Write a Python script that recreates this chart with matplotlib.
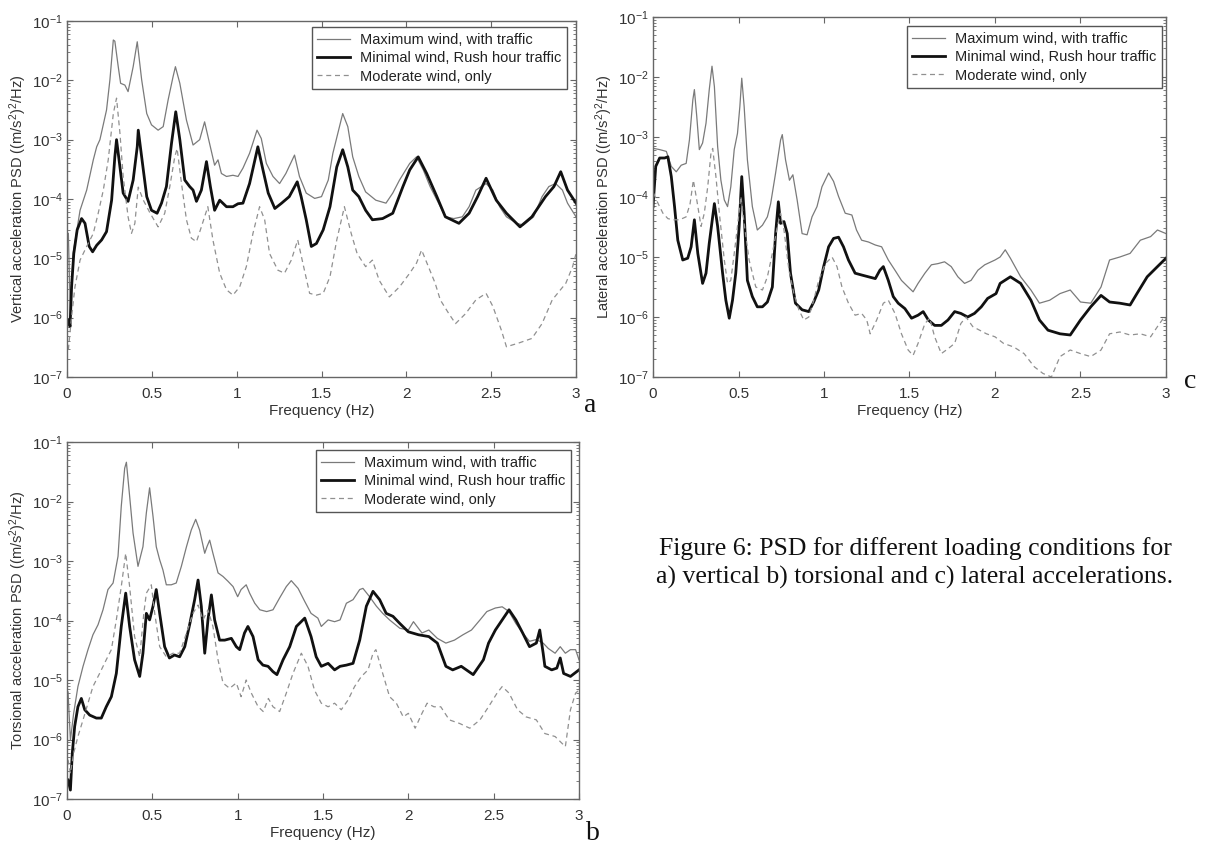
import matplotlib
matplotlib.use("Agg")
import matplotlib.pyplot as plt
import numpy as np
from matplotlib.ticker import FixedLocator, LogLocator, FuncFormatter, NullFormatter

plt.rcParams['font.family'] = ['Liberation Sans', 'DejaVu Sans']
plt.rcParams['mathtext.fontset'] = 'custom'
plt.rcParams['mathtext.rm'] = 'Liberation Sans'
plt.rcParams['mathtext.it'] = 'Liberation Sans:italic'
plt.rcParams['mathtext.bf'] = 'Liberation Sans:bold'
plt.rcParams['mathtext.default'] = 'regular'

# ---------------- data (log10 of PSD) ----------------
labels = ["Maximum wind, with traffic", "Minimal wind, Rush hour traffic", "Moderate wind, only"]
x_ticks = [0, 0.5, 1, 1.5, 2, 2.5, 3]
x_tick_labels = ["0", "0.5", "1", "1.5", "2", "2.5", "3"]
y_decades = [-7, -6, -5, -4, -3, -2, -1]

# Panel a: vertical
vert_f_max = [0.008,0.02,0.037,0.077,0.116,0.155,0.175,0.194,0.233,0.253,0.273,0.282,0.302,0.316,0.341,0.36,0.39,0.414,0.44,0.47,0.498,0.537,0.567,0.596,0.625,0.639,0.665,0.704,0.743,0.782,0.811,0.84,0.87,0.89,0.91,0.94,0.978,1.008,1.037,1.076,1.12,1.145,1.175,1.214,1.253,1.29,1.341,1.37,1.41,1.46,1.5,1.54,1.567,1.606,1.625,1.655,1.684,1.72,1.76,1.82,1.88,1.92,1.96,2.02,2.06,2.1,2.14,2.19,2.23,2.28,2.33,2.37,2.41,2.47,2.51,2.55,2.59,2.65,2.69,2.75,2.8,2.84,2.88,2.92,2.95,3.0]
vert_lg_max = [-4.58,-5.98,-4.9,-4.19,-3.85,-3.34,-3.12,-3.0,-2.5,-1.99,-1.32,-1.34,-1.77,-2.05,-2.08,-2.19,-1.77,-1.35,-1.99,-2.56,-2.75,-2.84,-2.78,-2.33,-1.94,-1.77,-2.05,-2.67,-3.09,-3.0,-2.70,-3.06,-3.43,-3.34,-3.57,-3.62,-3.60,-3.62,-3.48,-3.23,-2.84,-2.98,-3.40,-3.62,-3.74,-3.57,-3.26,-3.62,-3.90,-3.99,-3.96,-3.68,-3.23,-2.78,-2.56,-2.78,-3.29,-3.62,-3.88,-4.02,-4.07,-3.90,-3.68,-3.40,-3.29,-3.51,-3.79,-4.07,-4.30,-4.33,-4.30,-4.13,-3.85,-3.74,-3.85,-4.13,-4.30,-4.41,-4.44,-4.30,-3.96,-3.79,-3.74,-3.85,-4.07,-4.30]
vert_f_min = [0.008,0.018,0.027,0.04,0.06,0.086,0.106,0.131,0.151,0.175,0.204,0.233,0.263,0.282,0.292,0.312,0.331,0.36,0.39,0.414,0.42,0.44,0.47,0.498,0.531,0.557,0.586,0.616,0.641,0.665,0.694,0.723,0.743,0.763,0.792,0.822,0.845,0.87,0.9,0.94,0.978,1.008,1.037,1.076,1.125,1.155,1.186,1.225,1.265,1.31,1.357,1.38,1.41,1.44,1.47,1.51,1.55,1.59,1.625,1.655,1.684,1.72,1.76,1.8,1.86,1.92,1.98,2.02,2.07,2.12,2.18,2.23,2.31,2.37,2.42,2.47,2.53,2.59,2.67,2.74,2.82,2.87,2.91,2.95,3.0]
vert_lg_min = [-6.04,-6.15,-5.48,-4.92,-4.52,-4.33,-4.41,-4.80,-4.89,-4.78,-4.69,-4.55,-4.02,-3.29,-3.0,-3.46,-3.90,-4.04,-3.68,-3.12,-2.84,-3.29,-3.96,-4.19,-4.24,-4.07,-3.79,-3.06,-2.53,-3.0,-3.68,-3.79,-3.85,-4.04,-3.85,-3.37,-3.79,-4.19,-4.02,-4.13,-4.13,-4.08,-4.07,-3.74,-3.12,-3.51,-3.90,-4.16,-4.07,-3.96,-3.71,-3.96,-4.35,-4.80,-4.75,-4.52,-4.13,-3.46,-3.17,-3.46,-3.85,-3.96,-4.19,-4.35,-4.33,-4.24,-3.79,-3.51,-3.29,-3.57,-3.96,-4.30,-4.41,-4.24,-3.96,-3.65,-4.02,-4.24,-4.47,-4.30,-3.96,-3.79,-3.54,-3.85,-4.07]
vert_f_mod = [0.008,0.027,0.047,0.077,0.116,0.155,0.184,0.214,0.243,0.273,0.292,0.312,0.331,0.36,0.38,0.4,0.42,0.45,0.49,0.537,0.576,0.606,0.635,0.649,0.675,0.704,0.733,0.763,0.792,0.83,0.86,0.9,0.94,0.978,1.018,1.057,1.096,1.135,1.165,1.194,1.243,1.282,1.322,1.36,1.39,1.43,1.47,1.51,1.55,1.59,1.635,1.675,1.71,1.76,1.8,1.84,1.9,1.96,2.02,2.06,2.09,2.13,2.17,2.2,2.25,2.29,2.35,2.41,2.47,2.51,2.56,2.59,2.66,2.74,2.8,2.86,2.94,2.98,3.0]
vert_lg_mod = [-6.54,-5.98,-5.48,-5.03,-4.80,-4.58,-4.24,-3.85,-3.34,-2.56,-2.3,-2.89,-3.62,-4.30,-4.58,-4.41,-3.8,-4.02,-4.24,-4.47,-4.24,-3.79,-3.29,-3.15,-3.74,-4.35,-4.66,-4.72,-4.47,-4.13,-4.69,-5.25,-5.53,-5.62,-5.48,-5.14,-4.58,-4.13,-4.35,-4.92,-5.20,-5.25,-5.03,-4.69,-5.08,-5.59,-5.62,-5.59,-5.31,-4.69,-4.13,-4.58,-4.92,-5.14,-5.03,-5.37,-5.65,-5.48,-5.25,-5.08,-4.86,-5.14,-5.42,-5.70,-5.93,-6.10,-5.93,-5.70,-5.59,-5.81,-6.21,-6.49,-6.43,-6.35,-6.10,-5.70,-5.42,-5.14,-4.92]

# Panel c: lateral
lat_f_max = [0.004,0.039,0.078,0.107,0.136,0.165,0.194,0.213,0.233,0.242,0.256,0.271,0.29,0.31,0.329,0.345,0.359,0.378,0.397,0.417,0.436,0.455,0.475,0.494,0.508,0.519,0.533,0.552,0.581,0.61,0.64,0.669,0.688,0.717,0.746,0.756,0.775,0.798,0.818,0.843,0.872,0.901,0.93,0.959,0.988,1.027,1.056,1.085,1.124,1.163,1.19,1.22,1.26,1.3,1.337,1.376,1.415,1.453,1.492,1.521,1.55,1.59,1.628,1.667,1.705,1.744,1.783,1.822,1.86,1.9,1.94,2.0,2.03,2.06,2.09,2.15,2.21,2.26,2.32,2.38,2.44,2.5,2.56,2.62,2.67,2.73,2.79,2.85,2.91,2.95,3.0]
lat_lg_max = [-3.19,-3.21,-3.24,-3.49,-3.58,-3.47,-3.44,-3.05,-2.38,-2.21,-2.66,-3.21,-3.10,-2.77,-2.21,-1.82,-2.16,-3.16,-3.72,-4.05,-4.16,-3.83,-3.21,-2.94,-2.49,-2.02,-2.49,-3.38,-4.16,-4.55,-4.47,-4.33,-4.11,-3.60,-3.05,-2.96,-3.38,-3.72,-3.63,-4.05,-4.61,-4.63,-4.33,-4.16,-3.83,-3.60,-3.74,-3.99,-4.27,-4.30,-4.55,-4.72,-4.75,-4.80,-4.83,-5.05,-5.22,-5.39,-5.50,-5.58,-5.44,-5.27,-5.13,-5.11,-5.08,-5.16,-5.33,-5.44,-5.39,-5.22,-5.13,-5.05,-5.0,-4.88,-5.02,-5.33,-5.55,-5.77,-5.72,-5.61,-5.55,-5.75,-5.77,-5.50,-5.05,-5.0,-4.94,-4.72,-4.66,-4.55,-4.61]
lat_f_min = [0.0,0.016,0.039,0.068,0.087,0.107,0.126,0.145,0.174,0.203,0.223,0.242,0.262,0.29,0.31,0.329,0.359,0.378,0.407,0.426,0.446,0.465,0.484,0.504,0.519,0.533,0.552,0.581,0.61,0.64,0.669,0.698,0.717,0.733,0.746,0.766,0.785,0.804,0.833,0.872,0.911,0.94,0.969,0.998,1.027,1.056,1.085,1.114,1.143,1.182,1.22,1.26,1.3,1.327,1.347,1.376,1.405,1.434,1.473,1.512,1.55,1.58,1.61,1.647,1.686,1.725,1.764,1.8,1.84,1.88,1.92,1.957,2.006,2.03,2.09,2.15,2.21,2.26,2.31,2.38,2.44,2.5,2.56,2.62,2.67,2.73,2.79,2.83,2.89,2.95,3.0]
lat_lg_min = [-4.16,-3.49,-3.35,-3.35,-3.33,-3.66,-4.16,-4.72,-5.05,-5.02,-4.83,-4.38,-4.94,-5.44,-5.27,-4.77,-4.11,-4.49,-5.27,-5.72,-6.02,-5.72,-5.27,-4.49,-3.66,-4.27,-5.39,-5.66,-5.83,-5.83,-5.75,-5.50,-4.61,-4.08,-4.44,-4.41,-4.61,-5.27,-5.77,-5.88,-5.91,-5.75,-5.55,-5.16,-4.83,-4.69,-4.67,-4.83,-5.05,-5.27,-5.30,-5.33,-5.36,-5.22,-5.16,-5.39,-5.66,-5.77,-5.86,-6.02,-5.97,-5.91,-6.05,-6.14,-6.14,-6.05,-5.91,-5.94,-6.0,-5.94,-5.83,-5.69,-5.61,-5.44,-5.33,-5.44,-5.72,-6.05,-6.22,-6.28,-6.30,-6.05,-5.83,-5.64,-5.75,-5.77,-5.80,-5.61,-5.33,-5.16,-5.02]
lat_f_mod = [0.004,0.03,0.058,0.087,0.116,0.155,0.194,0.217,0.236,0.256,0.281,0.3,0.32,0.339,0.349,0.368,0.388,0.417,0.436,0.455,0.475,0.494,0.514,0.533,0.562,0.601,0.64,0.669,0.698,0.727,0.746,0.766,0.795,0.824,0.853,0.882,0.911,0.94,0.969,1.008,1.047,1.076,1.105,1.143,1.182,1.22,1.25,1.27,1.308,1.347,1.376,1.415,1.453,1.492,1.521,1.55,1.59,1.618,1.647,1.686,1.725,1.764,1.8,1.83,1.87,1.91,1.95,2.0,2.05,2.11,2.17,2.23,2.28,2.33,2.38,2.44,2.5,2.56,2.62,2.67,2.73,2.79,2.85,2.91,2.95,2.99,3.0]
lat_lg_mod = [-3.94,-4.11,-4.27,-4.36,-4.38,-4.38,-4.33,-4.11,-3.72,-4.05,-4.49,-4.27,-3.83,-3.27,-3.19,-3.66,-4.27,-5.05,-5.44,-5.39,-4.94,-4.49,-3.99,-4.44,-5.05,-5.50,-5.55,-5.33,-4.94,-4.49,-4.27,-4.55,-5.22,-5.61,-5.88,-6.05,-6.0,-5.72,-5.39,-5.11,-5.0,-5.16,-5.50,-5.77,-5.97,-5.94,-6.05,-6.28,-6.05,-5.77,-5.72,-5.94,-6.28,-6.55,-6.64,-6.44,-6.11,-6.02,-6.33,-6.61,-6.53,-6.44,-6.11,-6.0,-6.16,-6.22,-6.28,-6.33,-6.44,-6.50,-6.61,-6.83,-6.94,-7.0,-6.66,-6.55,-6.61,-6.66,-6.55,-6.28,-6.25,-6.30,-6.28,-6.33,-6.16,-6.0,-6.05]

# Panel b: torsional
tor_f_max = [0.006,0.02,0.039,0.064,0.094,0.123,0.152,0.182,0.211,0.24,0.27,0.299,0.318,0.338,0.348,0.367,0.387,0.416,0.445,0.465,0.484,0.504,0.523,0.543,0.562,0.582,0.611,0.64,0.67,0.7,0.728,0.754,0.777,0.807,0.82,0.836,0.855,0.885,0.914,0.943,0.973,1.0,1.02,1.05,1.07,1.1,1.13,1.17,1.207,1.246,1.285,1.314,1.354,1.393,1.43,1.47,1.49,1.53,1.568,1.6,1.637,1.676,1.715,1.734,1.773,1.813,1.85,1.89,1.95,2.0,2.03,2.08,2.12,2.17,2.22,2.27,2.32,2.37,2.42,2.46,2.51,2.55,2.59,2.63,2.67,2.71,2.75,2.79,2.82,2.86,2.89,2.92,2.95,2.98,3.0]
tor_lg_max = [-5.2,-6.01,-5.56,-5.11,-4.77,-4.49,-4.24,-4.07,-3.82,-3.48,-3.37,-2.92,-2.08,-1.44,-1.34,-1.91,-2.53,-3.09,-2.76,-2.19,-1.77,-2.25,-2.76,-2.98,-3.15,-3.40,-3.40,-3.37,-3.09,-2.76,-2.48,-2.30,-2.48,-2.87,-2.76,-2.65,-2.87,-3.20,-3.26,-3.34,-3.43,-3.60,-3.48,-3.40,-3.54,-3.71,-3.82,-3.85,-3.82,-3.62,-3.43,-3.33,-3.46,-3.68,-3.88,-3.96,-4.10,-3.99,-4.02,-3.99,-3.71,-3.65,-3.48,-3.46,-3.60,-3.76,-3.88,-3.99,-4.13,-4.16,-4.02,-4.21,-4.16,-4.30,-4.38,-4.33,-4.24,-4.16,-3.99,-3.85,-3.79,-3.77,-3.85,-4.05,-4.21,-4.35,-4.32,-4.38,-4.47,-4.55,-4.44,-4.55,-4.49,-4.49,-4.66]
tor_f_min = [0.006,0.02,0.031,0.045,0.064,0.084,0.104,0.133,0.172,0.201,0.23,0.26,0.289,0.318,0.344,0.367,0.396,0.426,0.445,0.465,0.484,0.504,0.523,0.543,0.572,0.6,0.63,0.66,0.69,0.72,0.748,0.768,0.787,0.807,0.826,0.846,0.865,0.894,0.924,0.963,0.992,1.012,1.04,1.06,1.09,1.12,1.148,1.178,1.207,1.23,1.266,1.305,1.344,1.393,1.43,1.46,1.49,1.53,1.568,1.6,1.637,1.676,1.715,1.754,1.793,1.832,1.87,1.91,1.95,2.0,2.06,2.12,2.17,2.22,2.26,2.31,2.38,2.44,2.47,2.51,2.55,2.59,2.63,2.67,2.71,2.75,2.77,2.79,2.8,2.84,2.87,2.89,2.91,2.95,3.0]
tor_lg_min = [-6.68,-6.85,-6.23,-5.78,-5.45,-5.31,-5.50,-5.59,-5.64,-5.64,-5.45,-5.28,-4.89,-4.10,-3.54,-4.10,-4.66,-4.94,-4.55,-3.88,-3.99,-3.76,-3.48,-3.88,-4.44,-4.63,-4.58,-4.61,-4.44,-4.05,-3.65,-3.32,-3.76,-4.55,-3.99,-3.57,-3.99,-4.33,-4.33,-4.30,-4.44,-4.49,-4.21,-4.10,-4.27,-4.66,-4.75,-4.77,-4.86,-4.91,-4.66,-4.44,-4.10,-3.96,-4.27,-4.61,-4.77,-4.72,-4.83,-4.77,-4.75,-4.72,-4.33,-3.76,-3.51,-3.65,-3.88,-3.93,-4.05,-4.19,-4.24,-4.27,-4.38,-4.77,-4.83,-4.77,-4.91,-4.66,-4.38,-4.16,-3.99,-3.82,-3.99,-4.21,-4.44,-4.38,-4.16,-4.55,-4.77,-4.83,-4.80,-4.63,-4.89,-4.94,-4.83]
tor_f_mod = [0.006,0.02,0.039,0.064,0.094,0.123,0.152,0.191,0.23,0.26,0.289,0.318,0.344,0.367,0.396,0.426,0.45,0.465,0.494,0.514,0.543,0.582,0.621,0.66,0.7,0.738,0.768,0.797,0.826,0.855,0.885,0.914,0.953,0.992,1.02,1.05,1.08,1.12,1.15,1.18,1.207,1.246,1.285,1.324,1.373,1.412,1.45,1.49,1.53,1.568,1.607,1.646,1.685,1.725,1.764,1.793,1.81,1.85,1.89,1.93,1.97,2.0,2.04,2.08,2.11,2.15,2.19,2.24,2.3,2.36,2.42,2.47,2.52,2.55,2.59,2.64,2.69,2.75,2.8,2.86,2.92,2.95,2.98,3.0]
tor_lg_mod = [-6.34,-6.57,-6.23,-5.95,-5.67,-5.39,-5.11,-4.89,-4.66,-4.49,-3.99,-3.43,-2.87,-3.43,-4.27,-4.61,-3.88,-3.54,-3.40,-3.88,-4.44,-4.61,-4.55,-4.55,-4.21,-3.88,-3.74,-3.99,-3.82,-4.10,-4.66,-5.05,-5.14,-5.05,-5.28,-5.0,-5.22,-5.45,-5.53,-5.31,-5.45,-5.53,-5.22,-4.89,-4.55,-4.77,-5.17,-5.39,-5.45,-5.39,-5.50,-5.34,-5.11,-4.94,-4.83,-4.55,-4.49,-4.89,-5.28,-5.39,-5.62,-5.56,-5.81,-5.56,-5.39,-5.45,-5.45,-5.67,-5.73,-5.81,-5.67,-5.45,-5.22,-5.11,-5.22,-5.50,-5.62,-5.67,-5.90,-5.95,-6.12,-5.50,-5.22,-5.17]

panels = [
    dict(name="a", ylabel="Vertical acceleration PSD ((m/s$^2$)$^2$/Hz)",
         series=[(vert_f_max, vert_lg_max), (vert_f_min, vert_lg_min), (vert_f_mod, vert_lg_mod)],
         rect=[67, 21, 576, 377], legend=(307, 27, 567), tag=(590, 405)),
    dict(name="c", ylabel="Lateral acceleration PSD ((m/s$^2$)$^2$/Hz)",
         series=[(lat_f_max, lat_lg_max), (lat_f_min, lat_lg_min), (lat_f_mod, lat_lg_mod)],
         rect=[653, 17, 1166, 377], legend=(896, 26, 1162), tag=(1190, 381)),
    dict(name="b", ylabel="Torsional acceleration PSD ((m/s$^2$)$^2$/Hz)",
         series=[(tor_f_max, tor_lg_max), (tor_f_min, tor_lg_min), (tor_f_mod, tor_lg_mod)],
         rect=[67, 442, 579, 799], legend=(309, 450, 571), tag=(593, 833)),
]

W, H = 1208, 850
fig = plt.figure(figsize=(W / 100, H / 100), dpi=100)
fig.patch.set_facecolor("white")

styles = [dict(color="#7a7a7a", lw=0.9, ls="-"),
          dict(color="#111111", lw=2.0, ls="-"),
          dict(color="#909090", lw=0.9, ls=(0, (4, 3)))]
txt_color = "#333333"
spine_color = "#666666"

def fmt_dec(v, pos):
    e = int(round(np.log10(v)))
    return r"$10^{%d}$" % e

for p in panels:
    x0, y0, x1, y1 = p["rect"]
    ax = fig.add_axes([x0 / W, 1 - y1 / H, (x1 - x0) / W, (y1 - y0) / H])
    for (f, lg), st in zip(p["series"], styles):
        assert len(f) == len(lg), (p["name"], len(f), len(lg))
        ax.plot(f, np.power(10.0, lg), **st)
    ax.set_yscale("log")
    ax.set_xlim(0, 3)
    ax.set_ylim(10.0 ** y_decades[0], 10.0 ** y_decades[-1])
    ax.xaxis.set_major_locator(FixedLocator(x_ticks))
    ax.set_xticklabels(x_tick_labels)
    ax.yaxis.set_major_locator(FixedLocator([10.0 ** d for d in y_decades]))
    ax.yaxis.set_major_formatter(FuncFormatter(fmt_dec))
    ax.yaxis.set_minor_locator(LogLocator(base=10, subs=np.arange(2, 10), numticks=20))
    ax.yaxis.set_minor_formatter(NullFormatter())
    ax.tick_params(which="both", direction="in", top=True, right=True,
                   colors=spine_color, labelcolor=txt_color, labelsize=11)
    ax.tick_params(which="major", length=4, width=0.8, pad=3)
    ax.tick_params(axis="x", which="major", pad=7)
    ax.tick_params(which="minor", length=2.5, width=0.6)
    for s in ax.spines.values():
        s.set_color(spine_color)
        s.set_linewidth(1.0)
    ax.set_xlabel("Frequency (Hz)", fontsize=11, color=txt_color, labelpad=2)
    ax.set_ylabel(p["ylabel"], fontsize=10.5, color=txt_color)
    ax.yaxis.set_label_coords(-38.0 / (x1 - x0), 0.5)
    lx0, ly0, lx1 = p["legend"]
    leg = ax.legend(labels, loc="upper right",
                    bbox_to_anchor=((lx1 - x0) / (x1 - x0), 1 - (ly0 - y0) / (y1 - y0)),
                    borderaxespad=0, fancybox=False, framealpha=1,
                    edgecolor="#555555", fontsize=10.5, handlelength=2.2,
                    handletextpad=0.7, labelspacing=0.3, borderpad=0.4)
    leg.get_frame().set_linewidth(1.0)
    for t in leg.get_texts():
        t.set_color("#222222")
    tx, ty = p["tag"]
    fig.text(tx / W, 1 - ty / H, p["name"], fontsize=20, family="Liberation Serif",
             ha="center", va="center", color="#111111")

fig.text(915 / W, 1 - 563 / H,
         "Figure 6: PSD for different loading conditions for\n"
         "a) vertical b) torsional and c) lateral accelerations.",
         fontsize=18.5, family="Liberation Serif", ha="center", va="center",
         multialignment="center", color="#111111", linespacing=1.35)

fig.savefig("out.png", dpi=100, facecolor="white")
